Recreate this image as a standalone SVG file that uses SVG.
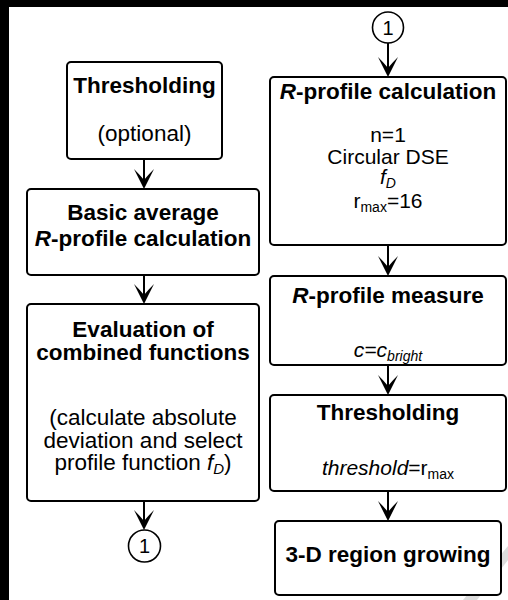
<svg xmlns="http://www.w3.org/2000/svg" width="508" height="600" viewBox="0 0 508 600">
<defs>
<style>
.box{fill:#fff;stroke:#000;stroke-width:2}
.circ{fill:#fff;stroke:#000;stroke-width:1.6}
.ln{stroke:#000;stroke-width:2;fill:none}
text{font-family:"Liberation Sans",Arial,sans-serif;fill:#000;text-anchor:middle}
.b{font-weight:bold;font-size:22.5px}
.rl{font-size:22.5px}
.rr{font-size:21px}
.num{font-size:20px}
.i{font-style:italic}
</style>
<marker id="ah" viewBox="-21 -11 22 22" markerWidth="22" markerHeight="22" refX="-6" refY="0" orient="auto" markerUnits="userSpaceOnUse">
<path d="M0,0 L-20,-10 Q-14,-4 -9,0 Q-14,4 -20,10 Z" fill="#000"/>
</marker>
</defs>
<rect x="0" y="0" width="508" height="600" fill="#fff"/>
<polygon points="508,546 508,560 477,600 463,600" fill="#dcdcdc"/>
<rect x="0" y="0" width="508" height="7" fill="#000"/>
<rect x="0" y="0" width="9" height="600" fill="#000"/>

<g id="connectors">
<line class="ln" x1="144" y1="159" x2="144" y2="183" marker-end="url(#ah)"/>
<line class="ln" x1="144" y1="275" x2="144" y2="298" marker-end="url(#ah)"/>
<line class="ln" x1="144" y1="501" x2="144" y2="524" marker-end="url(#ah)"/>
<line class="ln" x1="388" y1="43" x2="388" y2="71" marker-end="url(#ah)"/>
<line class="ln" x1="388" y1="245" x2="388" y2="270" marker-end="url(#ah)"/>
<line class="ln" x1="388" y1="365" x2="388" y2="389" marker-end="url(#ah)"/>
<line class="ln" x1="388" y1="491" x2="388" y2="515" marker-end="url(#ah)"/>
</g>

<g id="n-thresh-left">
<rect class="box" x="67" y="62" width="155" height="97" rx="4"/>
<text class="b" x="144.5" y="93">Thresholding</text>
<text class="rl" x="144.5" y="141">(optional)</text>
</g>

<g id="n-basic">
<rect class="box" x="27" y="189" width="232" height="86" rx="4"/>
<text class="b" x="143" y="220">Basic average</text>
<text class="b" x="143" y="246"><tspan class="i">R</tspan>-profile calculation</text>
</g>

<g id="n-eval">
<rect class="box" x="27" y="304" width="232" height="197" rx="4"/>
<text class="b" x="143" y="337">Evaluation of</text>
<text class="b" x="143" y="360">combined functions</text>
<text class="rl" x="143" y="425">(calculate absolute</text>
<text class="rl" x="143" y="448">deviation and select</text>
<text class="rl" x="143" y="470">profile function  <tspan class="i">f</tspan><tspan class="i" font-size="15" dy="4">D</tspan><tspan dy="-4">)</tspan></text>
</g>

<g id="n-conn-out">
<circle class="circ" cx="144.5" cy="546" r="16"/>
<text class="num" x="144.5" y="553">1</text>
</g>

<g id="n-conn-in">
<circle class="circ" cx="388" cy="27.5" r="15.5"/>
<text class="num" x="388" y="34.5">1</text>
</g>

<g id="n-rprofile">
<rect class="box" x="270" y="77" width="236" height="168" rx="4"/>
<text class="b" x="388" y="99"><tspan class="i">R</tspan>-profile calculation</text>
<text class="rr" x="388" y="142">n=1</text>
<text class="rr" x="388" y="164">Circular DSE</text>
<text class="rr" x="388" y="184"><tspan class="i">f</tspan><tspan class="i" font-size="14" dy="4">D</tspan></text>
<text class="rr" x="388" y="208">r<tspan font-size="14" dy="4">max</tspan><tspan dy="-4">=16</tspan></text>
</g>

<g id="n-measure">
<rect class="box" x="270" y="276" width="236" height="89" rx="4"/>
<text class="b" x="388" y="303"><tspan class="i">R</tspan>-profile measure</text>
<text class="rr i" x="388" y="357">c=c<tspan font-size="14" dy="4">bright</tspan></text>
</g>

<g id="n-thresh-right">
<rect class="box" x="270" y="395" width="236" height="96" rx="4"/>
<text class="b" x="388" y="420">Thresholding</text>
<text class="rr" x="388" y="475"><tspan class="i">threshold</tspan>=r<tspan font-size="14" dy="4">max</tspan></text>
</g>

<g id="n-region">
<rect class="box" x="275" y="521" width="226" height="74" rx="4"/>
<text class="b" x="388" y="562">3-D region growing</text>
</g>
</svg>
